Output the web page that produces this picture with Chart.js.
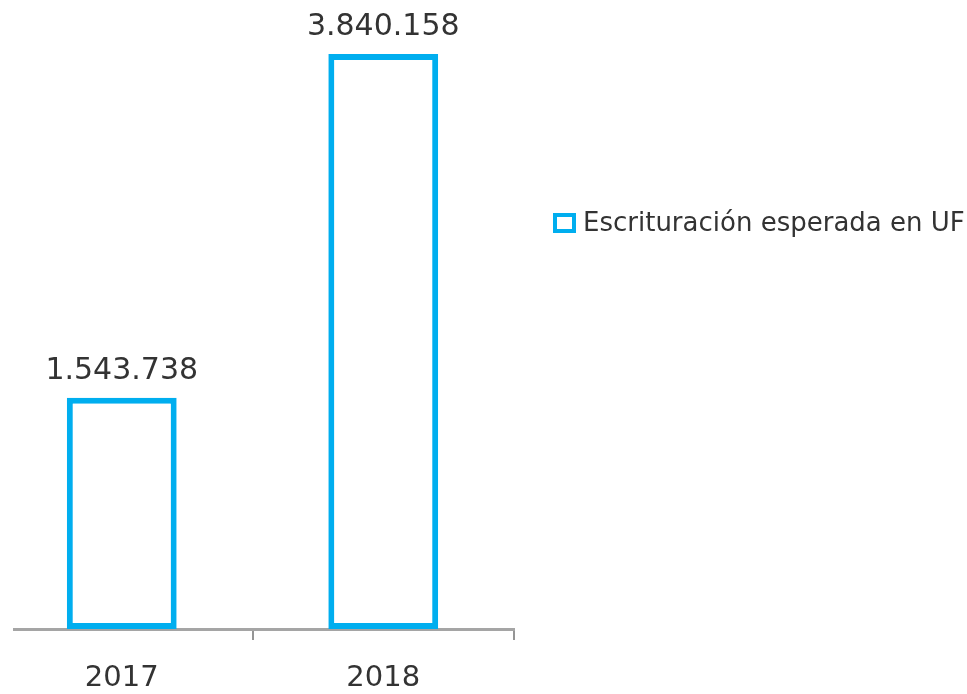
<!DOCTYPE html>
<html>
<head>
<meta charset="utf-8">
<script src="https://cdn.jsdelivr.net/npm/chart.js@4/dist/chart.umd.min.js"></script>
<style>
  html, body { margin: 0; padding: 0; width: 967px; height: 694px; overflow: hidden; background: #ffffff; }
  #wrap { position: absolute; left: -9px; top: 0; width: 976px; height: 716px; }
  #axisGap { position: absolute; left: 0; top: 622px; width: 13px; height: 14px; background: #ffffff; }
  #legendBox { position: absolute; left: 553px; top: 213px; width: 23px; height: 20px; box-sizing: border-box; border: 4px solid #00aeef; background: #fff; }
  #legendText { position: absolute; left: 583px; top: 209px; font-family: "DejaVu Sans"; font-size: 26px; line-height: 26px; color: #333333; white-space: nowrap; }
</style>
</head>
<body>
<div id="wrap"><canvas id="c"></canvas></div>
<div id="axisGap"></div>
<div id="legendBox"></div>
<div id="legendText"></div>
<script>
const categories = ['2017', '2018'];
const values = [1543738, 3840158];
const seriesName = 'Escrituración esperada en UF';
const yMax = 4200000;

function fmt(v) {
  return String(v).replace(/\B(?=(\d{3})+(?!\d))/g, '.');
}

document.getElementById('legendText').textContent = seriesName;

const valueLabels = {
  id: 'valueLabels',
  afterDatasetsDraw(chart) {
    const ctx = chart.ctx;
    const meta = chart.getDatasetMeta(0);
    ctx.save();
    ctx.font = '30px "DejaVu Sans"';
    ctx.fillStyle = '#333333';
    ctx.textAlign = 'center';
    ctx.textBaseline = 'alphabetic';
    meta.data.forEach((bar, i) => {
      ctx.fillText(fmt(values[i]), bar.x, bar.y - 19);
    });
    ctx.restore();
  }
};

new Chart(document.getElementById('c'), {
  type: 'bar',
  data: {
    labels: categories,
    datasets: [{
      label: seriesName,
      data: values,
      backgroundColor: '#ffffff',
      borderColor: '#00aeef',
      borderWidth: 6,
      borderSkipped: false,
      barPercentage: 0.42,
      categoryPercentage: 1
    }]
  },
  options: {
    responsive: true,
    maintainAspectRatio: false,
    animation: false,
    layout: { padding: { left: 0, right: 453, top: 0, bottom: 0 } },
    plugins: {
      legend: { display: false },
      tooltip: { enabled: false }
    },
    scales: {
      x: {
        z: 1,
        grid: { offset: true, drawOnChartArea: false, drawTicks: true, tickLength: 11, color: '#959595', lineWidth: 2 },
        border: { display: true, color: '#a5a5a5', width: 3 },
        ticks: { font: { family: 'DejaVu Sans', size: 29 }, color: '#333333', padding: 20.6, maxRotation: 0 }
      },
      y: {
        display: false,
        min: 0,
        max: yMax,
        grid: { display: false }
      }
    }
  },
  plugins: [valueLabels]
});
</script>
</body>
</html>
